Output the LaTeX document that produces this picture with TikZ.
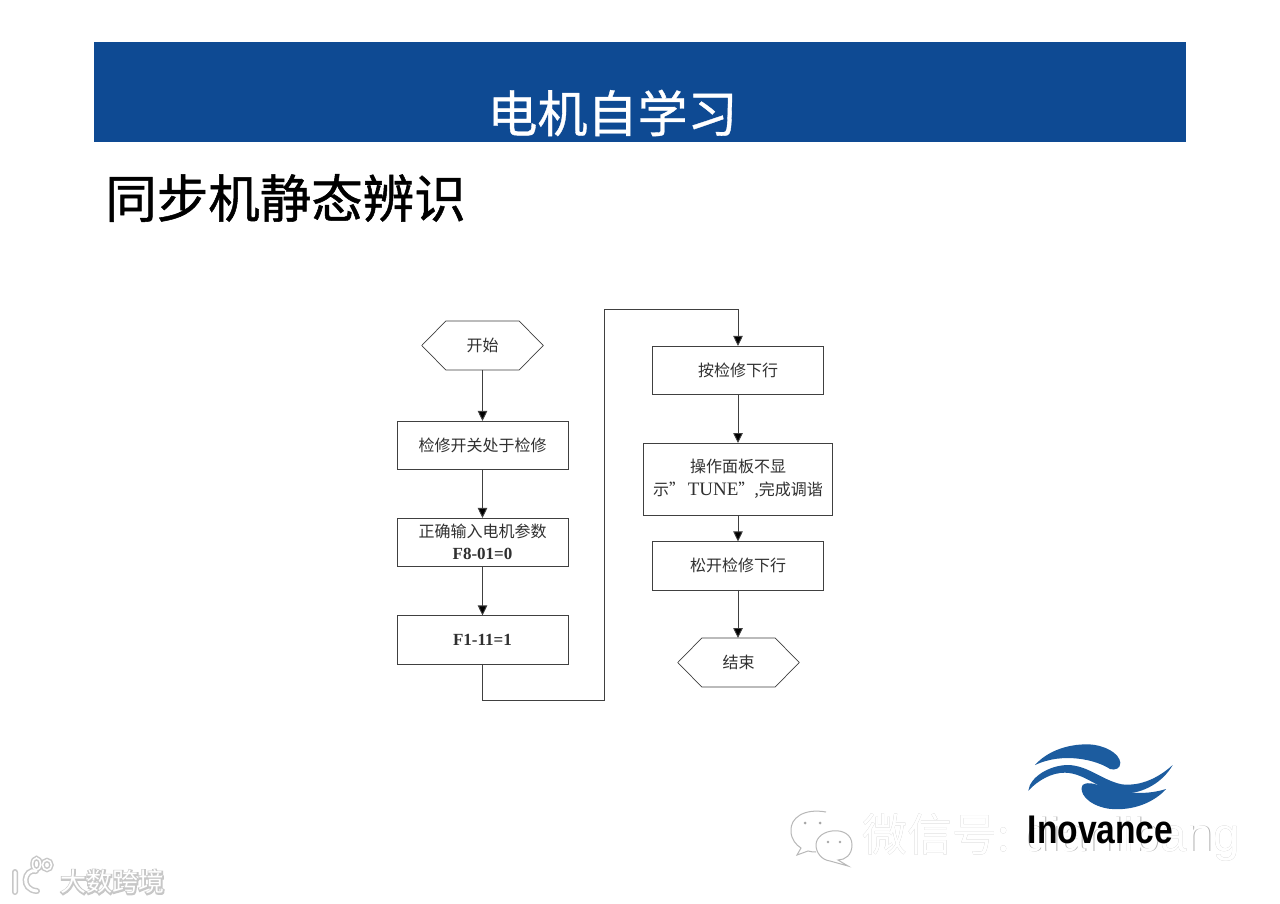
\documentclass[tikz,border=0pt]{standalone}
\usepackage{fontspec}
\setmainfont{Liberation Serif}
\newfontfamily\cjk{Noto Sans CJK SC}
\newfontfamily\cjktitle[FakeBold=0.7]{Noto Sans CJK SC}
\newfontfamily\cjkhead[FakeBold=1]{Noto Sans CJK SC}
\newfontfamily\cjkglow[FakeBold=10]{Noto Sans CJK SC}
\newfontfamily\lat{Liberation Sans}
\usetikzlibrary{shapes.symbols,arrows.meta}
\definecolor{band}{HTML}{0E4A93}
\definecolor{logoblue}{HTML}{1C5C9F}
\definecolor{boxline}{HTML}{404040}
\definecolor{ink}{HTML}{303030}
\tikzset{
  flowbox/.style={draw=boxline,line width=0.9pt,fill=white,inner sep=0pt,outer sep=0pt,
    minimum width=171pt,minimum height=48.5pt,align=center,text=ink,font=\fontsize{16}{23}\selectfont},
  hexbox/.style={signal,signal to=west and east,signal pointer angle=91,draw=boxline,line width=0.7pt,
    inner sep=0pt,outer sep=0pt,minimum width=121.5pt,minimum height=49pt,text=ink,font=\fontsize{16}{23}\selectfont},
  link/.style={draw=boxline,line width=0.9pt,-{Triangle[length=10pt,width=9.5pt,fill=black]}},
  mark text/.style={inner sep=0pt,outer sep=0pt,anchor=base west},
}
\newcommand{\latinbig}[1]{{\rmfamily\fontsize{17}{23}\selectfont\textbf{#1}}}
\begin{document}
\begin{tikzpicture}[x=1pt,y=-1pt]
\useasboundingbox (0,0) rectangle (1280,904);
\fill[white] (0,0) rectangle (1280,904);
% title band
\fill[band] (94,42) rectangle (1186,142);
\node[inner sep=0pt,text=white,font=\cjktitle\fontsize{50}{50}\selectfont] (title) at (612.5,113) {电机自学习};
\node[inner sep=0pt,text=black,font=\cjkhead\fontsize{51.5}{51.5}\selectfont] (head) at (285.5,198) {同步机静态辨识};
% flow, left column
\node[hexbox] (start) at (482.5,345.5) {\cjk 开始};
\node[flowbox] (b1) at (482.5,445.2) {\cjk 检修开关处于检修};
\node[flowbox] (b2) at (482.5,542.2) {\cjk 正确输入电机参数\\[-1pt]\latinbig{F8-01=0}};
\node[flowbox] (b3) at (482.5,639.7) {\latinbig{F1-11=1}};
% flow, right column
\node[flowbox] (b4) at (738,370.2) {\cjk 按检修下行};
\node[flowbox,minimum width=189.5pt,minimum height=72pt] (b5) at (738,479) {\cjk 操作面板不显\\\cjk 示”\,{\rmfamily\fontsize{19}{23}\selectfont TUNE}\cjk ”,完成调谐};
\node[flowbox] (b6) at (738,565.7) {\cjk 松开检修下行};
\node[hexbox] (stop) at (738.5,662.5) {\cjk 结束};
\coordinate (low) at (604.5,700.5);
\coordinate (high) at (604.5,309);
\draw[link] (start) -- (b1);
\draw[link] (b1) -- (b2);
\draw[link] (b2) -- (b3);
\draw[link] (b3.south) |- (low) -- (high) -| (b4.north);
\draw[link] (b4) -- (b5);
\draw[link] (b5) -- (b6);
\draw[link] (b6.south) -- (stop.north -| b6.south);
% logo
\begin{scope}[shift={(780,730)},x=0.33333pt,y=-0.33333pt]
\fill[logoblue] (765,105) .. controls (800,65) and (860,42) .. (925,43)
  .. controls (975,45) and (1018,70) .. (1021,98)
  .. controls (1022,115) and (1005,122) .. (990,117)
  .. controls (950,90) and (850,65) .. (765,105) -- cycle;
\fill[logoblue] (745,182) .. controls (750,140) and (810,105) .. (865,105)
  .. controls (925,107) and (965,150) .. (1025,163)
  .. controls (1085,170) and (1140,140) .. (1178,105)
  .. controls (1150,155) and (1090,192) .. (1030,190)
  .. controls (960,185) and (920,130) .. (855,128)
  .. controls (815,128) and (775,150) .. (745,182) -- cycle;
\fill[logoblue] (1158,177) .. controls (1100,195) and (1050,190) .. (990,177)
  .. controls (955,165) and (925,152) .. (908,165)
  .. controls (895,185) and (920,225) .. (985,236)
  .. controls (1060,245) and (1125,215) .. (1158,177) -- cycle;
\end{scope}
% WeChat watermark
\begin{scope}[draw=black!28,line width=1pt,fill=white]
\draw (826,812) .. controls (804,808) and (790,818) .. (791,831) .. controls (791,839) and (796,845) .. (801,848)
  -- (797,855) -- (808,851) .. controls (811,852) and (814,852) .. (816,852);
\filldraw (816,845) .. controls (816,828) and (852,824) .. (852,845) .. controls (852,855) and (845,860) .. (838,860)
  -- (848,866) -- (830,861) .. controls (822,860) and (816,853) .. (816,845) -- cycle;
\end{scope}
\fill[black!35] (805,823) circle (1.5pt) (820,823) circle (1.5pt) (828,842) circle (1.4pt) (840,842) circle (1.4pt);
\node[mark text,text=black!30] (wm0) at (862.7,851.7) {\fontsize{45}{45}\selectfont\cjk 微信号: \lat\fontsize{47.5}{47.5}\selectfont dianlibang};
\node[mark text,text=white] (wm) at (862,851) {\fontsize{45}{45}\selectfont\cjk 微信号: \lat\fontsize{47.5}{47.5}\selectfont dianlibang};
\node[inner sep=0pt,text=black,font=\lat\bfseries\fontsize{40}{40}\selectfont] (brand) at (1100.5,830) {\scalebox{0.84}[1]{Inovance}};
% site mark bottom left
\node[inner sep=0pt,text=black!22,font=\cjkglow\fontsize{26}{26}\selectfont] (site0) at (112.5,882) {大数跨境};
\node[inner sep=0pt,text=white,font=\cjk\fontsize{26}{26}\selectfont] (site) at (112.5,882) {大数跨境};
\begin{scope}[line cap=round]
\draw[black!22,line width=6pt] (15,872) -- (15,892) (36,871) .. controls (24,868) and (20,890) .. (37,891);
\draw[black!22,line width=4.5pt] (36.5,864) ellipse (4pt and 6pt) (47,865) ellipse (4.5pt and 5pt);
\draw[white,line width=3pt] (15,872) -- (15,892) (36,871) .. controls (24,868) and (20,890) .. (37,891);
\draw[white,line width=1.6pt] (36.5,864) ellipse (4pt and 6pt) (47,865) ellipse (4.5pt and 5pt);
\end{scope}
\end{tikzpicture}
\end{document}
